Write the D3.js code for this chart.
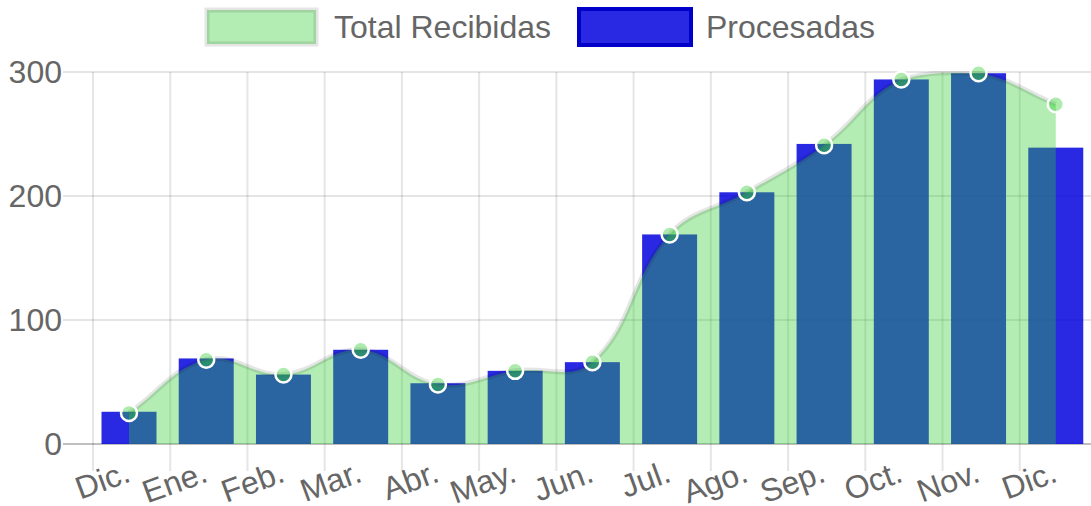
<!DOCTYPE html>
<html>
<head>
<meta charset="utf-8">
<script src="https://cdn.jsdelivr.net/npm/d3@7/dist/d3.min.js"></script>
<style>
  html, body { margin: 0; padding: 0; background: #fff; }
  svg { display: block; }
  text { font-family: "Liberation Sans", Arial, Helvetica, sans-serif; fill: #666; }
</style>
</head>
<body>
<svg id="chart" width="1091" height="506"></svg>
<script>
// ---- data ----
const categories = ["Dic.", "Ene.", "Feb.", "Mar.", "Abr.", "May.", "Jun.", "Jul.", "Ago.", "Sep.", "Oct.", "Nov.", "Dic."];
const totalRecibidas = [25, 68, 56, 76, 48, 59, 66, 169, 203, 241, 294, 299, 274];
const procesadas = [26, 69, 56, 76, 49, 59, 66, 169, 203, 242, 294, 299, 239];
const yTicks = [0, 100, 200, 300];
const seriesNames = ["Total Recibidas", "Procesadas"];

// ---- layout ----
const W = 1091, H = 506;
const area = { left: 93, right: 1097, top: 72, bottom: 444 };
const FONT = 32;

const svg = d3.select("#chart");

const x = d3.scaleBand()
  .domain(d3.range(categories.length))
  .range([area.left, area.right])
  .paddingInner(0).paddingOuter(0);
const centerOff = 36;      // center of bar / point within band
const barW = 55;
const cx = i => x(i) + centerOff;

const y = d3.scaleLinear().domain([0, 300]).range([area.bottom, area.top]);

// clip path for chart area
svg.append("defs").append("clipPath").attr("id", "clipArea")
  .append("rect")
  .attr("x", area.left).attr("y", area.top - 1)
  .attr("width", area.right - area.left).attr("height", area.bottom - area.top + 1);

// ---- grid ----
const grid = svg.append("g");
grid.selectAll("line.h").data(yTicks).enter().append("line")
  .attr("x1", area.left - 30).attr("x2", W)
  .attr("y1", d => y(d)).attr("y2", d => y(d))
  .attr("stroke", d => d === 0 ? "rgba(0,0,0,0.25)" : "rgba(0,0,0,0.1)")
  .attr("stroke-width", 2);
grid.selectAll("line.v").data(d3.range(categories.length)).enter().append("line")
  .attr("x1", d => x(d)).attr("x2", d => x(d))
  .attr("y1", area.top).attr("y2", area.bottom + 27)
  .attr("stroke", "rgba(0,0,0,0.1)")
  .attr("stroke-width", 2);

// ---- bars ----
svg.append("g").selectAll("rect").data(procesadas).enter().append("rect")
  .attr("x", (d, i) => cx(i) - barW / 2)
  .attr("width", barW)
  .attr("y", d => y(d))
  .attr("height", d => y(0) - y(d))
  .attr("fill", "rgba(0,0,222,0.84)");

// ---- spline (Chart.js style, tension 0.4, capped) ----
const pts = totalRecibidas.map((v, i) => ({ x: cx(i), y: y(v) }));
const t = 0.4;
const cap = (q) => ({
  x: Math.max(area.left, Math.min(area.right, q.x)),
  y: Math.max(area.top, Math.min(area.bottom, q.y))
});
const cps = pts.map((p, i) => {
  const prev = i > 0 ? pts[i - 1] : p;
  const next = i < pts.length - 1 ? pts[i + 1] : p;
  const d01 = Math.hypot(p.x - prev.x, p.y - prev.y);
  const d12 = Math.hypot(next.x - p.x, next.y - p.y);
  let s01 = d01 / (d01 + d12), s12 = d12 / (d01 + d12);
  if (!isFinite(s01)) s01 = 0;
  if (!isFinite(s12)) s12 = 0;
  const fa = t * s01, fb = t * s12;
  return {
    prev: cap({ x: p.x - fa * (next.x - prev.x), y: p.y - fa * (next.y - prev.y) }),
    next: cap({ x: p.x + fb * (next.x - prev.x), y: p.y + fb * (next.y - prev.y) })
  };
});
const linePath = d3.path();
linePath.moveTo(pts[0].x, pts[0].y);
for (let i = 1; i < pts.length; i++) {
  linePath.bezierCurveTo(cps[i - 1].next.x, cps[i - 1].next.y, cps[i].prev.x, cps[i].prev.y, pts[i].x, pts[i].y);
}
const lineD = linePath.toString();
const areaD = lineD + `L${pts[pts.length - 1].x},${y(0)}L${pts[0].x},${y(0)}Z`;

const lineG = svg.append("g").attr("clip-path", "url(#clipArea)");
lineG.append("path").attr("d", areaD).attr("fill", "rgba(50,205,50,0.37)");
lineG.append("path").attr("d", lineD).attr("fill", "none")
  .attr("stroke", "rgba(0,0,0,0.1)").attr("stroke-width", 5);

// points
svg.append("g").selectAll("circle").data(totalRecibidas).enter().append("circle")
  .attr("cx", (d, i) => cx(i))
  .attr("cy", d => y(d))
  .attr("r", 8)
  .attr("fill", "rgba(50,205,50,0.4)")
  .attr("stroke", "#fff")
  .attr("stroke-width", 2.5);

// ---- y labels ----
svg.append("g").selectAll("text").data(yTicks).enter().append("text")
  .attr("x", 62).attr("y", d => y(d))
  .attr("text-anchor", "end")
  .attr("dominant-baseline", "central")
  .attr("font-size", FONT)
  .text(d => d);

// ---- x labels ----
svg.append("g").selectAll("text").data(categories).enter().append("text")
  .attr("transform", (d, i) => `translate(${cx(i) + 3},${481}) rotate(-20)`)
  .attr("text-anchor", "end")
  .attr("font-size", FONT)
  .text(d => d);

// ---- legend ----
const leg = svg.append("g");
leg.append("rect").attr("x", 207).attr("y", 10).attr("width", 109).attr("height", 34)
  .attr("fill", "rgba(50,205,50,0.37)")
  .attr("stroke", "rgba(0,0,0,0.1)").attr("stroke-width", 5);
leg.append("text").attr("x", 334).attr("y", 38).attr("font-size", FONT).text(seriesNames[0]);
leg.append("rect").attr("x", 579).attr("y", 9).attr("width", 112).attr("height", 36)
  .attr("fill", "rgba(0,0,222,0.84)")
  .attr("stroke", "#0000c8").attr("stroke-width", 4);
leg.append("text").attr("x", 706).attr("y", 38).attr("font-size", FONT).text(seriesNames[1]);
</script>
</body>
</html>
